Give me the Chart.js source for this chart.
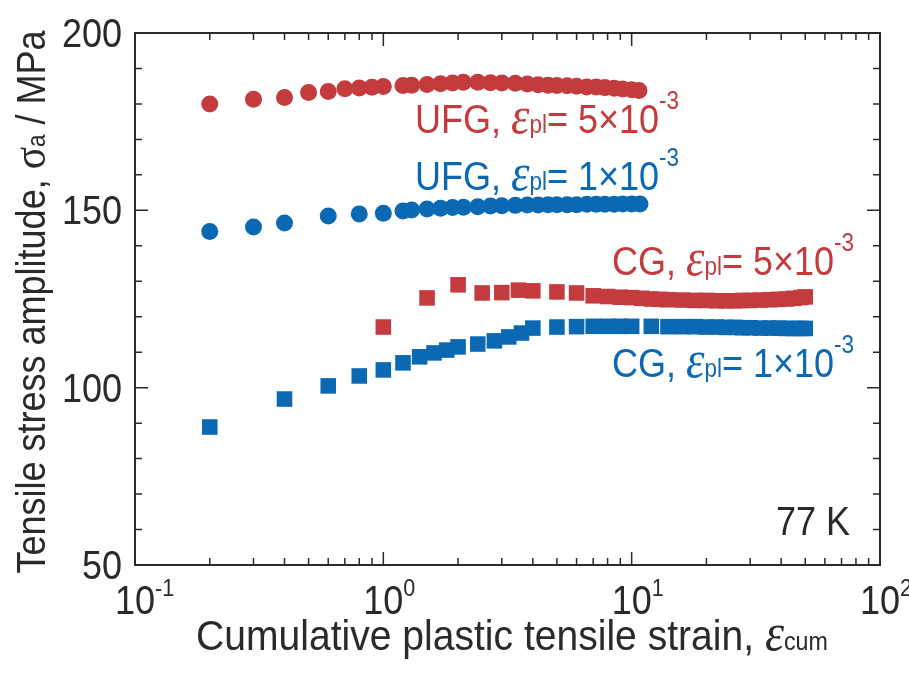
<!DOCTYPE html>
<html>
<head>
<meta charset="utf-8">
<script src="https://cdn.jsdelivr.net/npm/chart.js@4.4.1/dist/chart.umd.min.js"></script>
<style>
    html, body { margin: 0; padding: 0; background: #fff; }
    #wrap { width: 909px; height: 673px; }
</style>
</head>
<body>
<div id="wrap"><canvas id="stressChart" width="909" height="673"></canvas></div>
<script>
// UFG, strain amplitude 5e-3 (red circles)
const ufg5Strain = [0.2, 0.3, 0.4, 0.5, 0.6, 0.7, 0.8, 0.9, 1.0, 1.2, 1.3, 1.5, 1.7, 1.9, 2.1, 2.4, 2.7, 3.0,
    3.4, 3.8, 4.2, 4.6, 5.0, 5.5, 6.0, 6.6, 7.2, 7.8, 8.5, 9.2, 10.0, 10.7];
const ufg5Stress = [180.0, 181.3, 181.8, 183.2, 183.5, 184.3, 184.5, 184.7, 184.9, 185.2, 185.3, 185.5, 185.7, 185.9,
    186.1, 186.1, 186.0, 185.9, 185.8, 185.6, 185.4, 185.3, 185.2, 185.1, 185.0, 184.8, 184.8, 184.6,
    184.4, 184.2, 184.0, 183.8];

// UFG, strain amplitude 1e-3 (blue circles)
const ufg1Strain = [0.2, 0.3, 0.4, 0.6, 0.8, 1.0, 1.2, 1.3, 1.5, 1.7, 1.9, 2.1, 2.4, 2.7, 3.0,
    3.4, 3.8, 4.2, 4.6, 5.0, 5.5, 6.0, 6.6, 7.2, 7.8, 8.5, 9.2, 10.0, 10.8];
const ufg1Stress = [144.0, 145.3, 146.4, 148.4, 149.0, 149.2, 149.8, 150.1, 150.4, 150.6, 150.8,
    150.9, 151.0, 151.2, 151.3, 151.4, 151.5, 151.5, 151.6, 151.6, 151.6, 151.6, 151.7, 151.7, 151.7,
    151.7, 151.8, 151.8, 151.8];

// CG, strain amplitude 5e-3 (red squares)
const cg5Strain = [1.0, 1.5, 2.0, 2.5, 3.0, 3.5, 4.0, 5.0, 6.0, 7, 8, 9, 10, 11, 12, 13, 14, 16, 18,
    20, 22, 24, 26, 28, 30, 33, 36, 39, 42, 45, 48, 50];
const cg5Stress = [117.1, 125.3, 129.0, 126.7, 126.8, 127.5, 127.3, 127.0, 126.7, 125.9, 125.7, 125.5, 125.4, 125.2,
    125.0, 124.9, 124.8, 124.7, 124.6, 124.6, 124.5, 124.5, 124.5, 124.6, 124.6, 124.7, 124.8, 124.9, 125.0,
    125.2, 125.4, 125.6];

// CG, strain amplitude 1e-3 (blue squares)
const cg1Strain = [0.2, 0.4, 0.6, 0.8, 1.0, 1.2, 1.4, 1.6, 1.8, 2.0, 2.4, 2.8, 3.2, 3.6, 4.0, 5.0, 6.0,
    7, 8, 9, 10, 12, 14, 16, 18, 20, 22, 24, 26, 28, 30, 33, 36, 39, 42, 45, 48, 50];
const cg1Stress = [88.9, 96.8, 100.5, 103.3, 105.0, 107.0, 108.7, 109.8, 110.6, 111.5, 112.3, 113.2, 114.3, 115.4,
    116.8, 117.1, 117.2, 117.3, 117.3, 117.3, 117.3, 117.3, 117.2, 117.2, 117.2, 117.1, 117.1, 117.0, 117.0,
    116.9, 116.9, 116.8, 116.8, 116.8, 116.7, 116.7, 116.7, 116.7];

const xTickValues = [0.1, 1, 10, 100];
const xTickExponents = ['-1', '0', '1', '2'];
const yTickValues = [50, 100, 150, 200];

const red = '#c43b3e';
const blue = '#0b69b3';
const ink = '#2a2a2a';
const SANS = '"Liberation Sans", Arial, sans-serif';
const SERIF = '"Liberation Serif", "DejaVu Serif", serif';

function toPoints(xs, ys) {
    const pts = [];
    for (let i = 0; i < xs.length; i++) {
        pts.push({ x: xs[i], y: ys[i] });
    }
    return pts;
}

// draw a row of text pieces (different sizes / offsets), horizontally squeezed
function runsWidth(ctx, runs, sq) {
    let w = 0;
    runs.forEach(r => { ctx.font = r.font; w += ctx.measureText(r.t).width; });
    return w * sq;
}

function drawRuns(ctx, x, y, runs, color, align, sq) {
    sq = sq || 0.9;
    const w = runsWidth(ctx, runs, sq);
    let startX = x;
    if (align === 'right') startX = x - w;
    if (align === 'center') startX = x - w / 2;
    ctx.save();
    ctx.translate(startX, y);
    ctx.scale(sq, 1);
    ctx.fillStyle = color;
    ctx.textBaseline = 'alphabetic';
    ctx.textAlign = 'left';
    let cx = 0;
    runs.forEach(r => {
        ctx.font = r.font;
        ctx.fillText(r.t, cx, r.dy || 0);
        cx += ctx.measureText(r.t).width;
    });
    ctx.restore();
}

function epsLabel(prefix, mantissa) {
    return [
        { t: prefix, font: '40px ' + SANS },
        { t: 'ε', font: 'italic 52px ' + SERIF },
        { t: 'pl', font: '25px ' + SANS },
        { t: '= ' + mantissa + '×10', font: '40px ' + SANS },
        { t: '-3', font: '25px ' + SANS, dy: -24 }
    ];
}

const framePlugin = {
    id: 'framePlugin',
    afterDraw(chart) {
        const ctx = chart.ctx;
        const area = chart.chartArea;
        const xs = chart.scales.x;
        const ys = chart.scales.y;

        ctx.save();
        ctx.strokeStyle = ink;
        ctx.lineWidth = 2;
        ctx.strokeRect(area.left, area.top, area.right - area.left, area.bottom - area.top);

        // ticks, pointing inward on all four sides
        ctx.lineWidth = 1.5;
        ctx.beginPath();
        for (let v = 50; v <= 200; v += 10) {
            const py = ys.getPixelForValue(v);
            const len = (v % 50 === 0) ? 13 : 7;
            ctx.moveTo(area.left, py); ctx.lineTo(area.left + len, py);
            ctx.moveTo(area.right, py); ctx.lineTo(area.right - len, py);
        }
        for (let d = 0; d < xTickValues.length; d++) {
            const base = xTickValues[d];
            const maxK = d === xTickValues.length - 1 ? 1 : 9;
            for (let k = 1; k <= maxK; k++) {
                const px = xs.getPixelForValue(base * k);
                const len = k === 1 ? 13 : 7;
                ctx.moveTo(px, area.bottom); ctx.lineTo(px, area.bottom - len);
                ctx.moveTo(px, area.top); ctx.lineTo(px, area.top + len);
            }
        }
        ctx.stroke();
        ctx.restore();

        // y tick labels
        yTickValues.forEach(v => {
            const py = ys.getPixelForValue(v);
            drawRuns(ctx, 122, py + 14, [{ t: String(v), font: '40px ' + SANS }], ink, 'right');
        });

        // x tick labels 10^n
        xTickValues.forEach((v, i) => {
            const px = xs.getPixelForValue(v);
            ctx.font = '40px ' + SANS;
            const w10 = ctx.measureText('10').width * 0.9;
            drawRuns(ctx, px - w10 / 2, 614, [
                { t: '10', font: '40px ' + SANS },
                { t: xTickExponents[i], font: '24px ' + SANS, dy: -18 }
            ], ink, 'left');
        });

        // axis titles
        drawRuns(ctx, 512, 650, [
            { t: 'Cumulative plastic tensile strain, ', font: '42px ' + SANS },
            { t: 'ε', font: 'italic 52px ' + SERIF },
            { t: 'cum', font: '25px ' + SANS }
        ], ink, 'center', 0.93);

        ctx.save();
        ctx.translate(45, 302);
        ctx.rotate(-Math.PI / 2);
        drawRuns(ctx, 0, 0, [
            { t: 'Tensile stress amplitude, ', font: '40px ' + SANS },
            { t: 'σ', font: '46px ' + SERIF },
            { t: 'a', font: '25px ' + SANS },
            { t: ' / MPa', font: '40px ' + SANS }
        ], ink, 'center');
        ctx.restore();

        // series labels
        drawRuns(ctx, 415, 133, epsLabel('UFG, ', '5'), red, 'left');
        drawRuns(ctx, 415, 190, epsLabel('UFG, ', '1'), blue, 'left');
        drawRuns(ctx, 612, 275, epsLabel('CG, ', '5'), red, 'left');
        drawRuns(ctx, 612, 377, epsLabel('CG, ', '1'), blue, 'left');

        drawRuns(ctx, 850, 535, [{ t: '77 K', font: '40px ' + SANS }], ink, 'right');
    }
};

const canvasContext = document.getElementById('stressChart').getContext('2d');

new Chart(canvasContext, {
    type: 'scatter',
    data: {
        datasets: [
            {
                label: 'UFG 5e-3',
                data: toPoints(ufg5Strain, ufg5Stress),
                pointStyle: 'circle',
                pointRadius: 8.5,
                backgroundColor: red,
                borderWidth: 0
            },
            {
                label: 'UFG 1e-3',
                data: toPoints(ufg1Strain, ufg1Stress),
                pointStyle: 'circle',
                pointRadius: 8.5,
                backgroundColor: blue,
                borderWidth: 0
            },
            {
                label: 'CG 5e-3',
                data: toPoints(cg5Strain, cg5Stress),
                pointStyle: 'rect',
                pointRadius: 11,
                backgroundColor: red,
                borderWidth: 0
            },
            {
                label: 'CG 1e-3',
                data: toPoints(cg1Strain, cg1Stress),
                pointStyle: 'rect',
                pointRadius: 11,
                backgroundColor: blue,
                borderWidth: 0
            }
        ]
    },
    options: {
        responsive: false,
        animation: false,
        events: [],
        layout: { padding: { left: 135, right: 29, top: 33, bottom: 108 } },
        scales: {
            x: { type: 'logarithmic', min: 0.1, max: 100, display: false },
            y: { type: 'linear', min: 50, max: 200, display: false }
        },
        plugins: {
            legend: { display: false },
            tooltip: { enabled: false }
        }
    },
    plugins: [framePlugin]
});
</script>
</body>
</html>
